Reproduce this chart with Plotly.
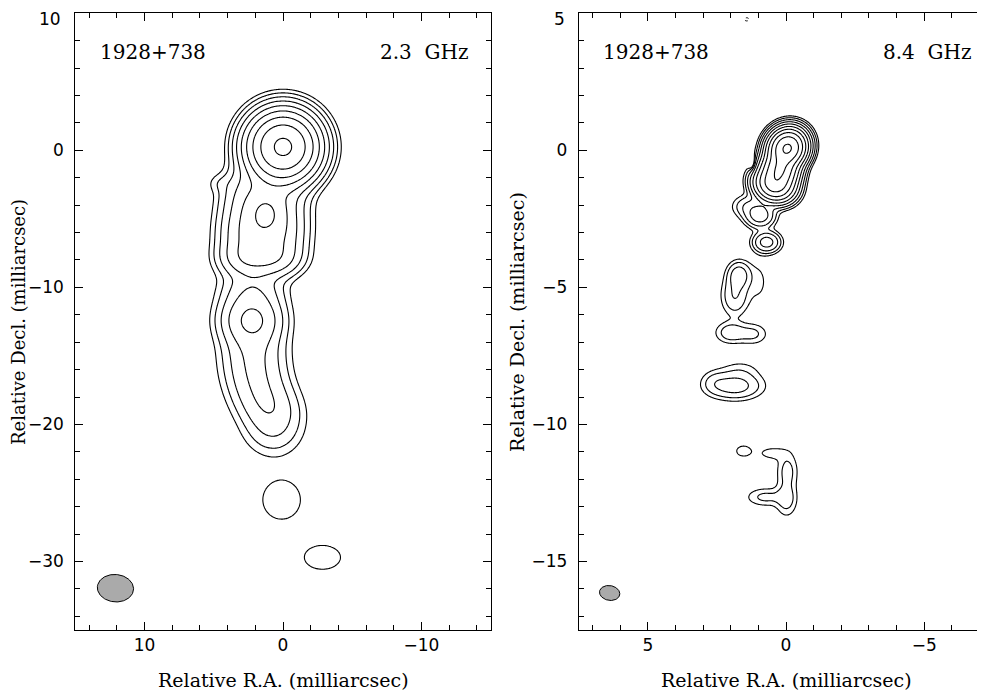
import numpy as np
import plotly.graph_objects as go

# ---------------- data: Gaussian source components (mas) ----------------
# 2.3 GHz (left panel); amplitudes in units of the lowest contour
c23_x   = [0.00,
           0.40, 2.40, 0.40, 2.40, 1.25, 0.45, 2.50, 0.55, 2.55, 0.70, 2.65,
           4.60,
           2.20, 2.25, 2.10, 2.10, 1.90, 1.50, 0.90, 0.70, 0.10, -2.85]
c23_y   = [0.25,
           -2.60, -2.60, -3.80, -3.80, -4.60, -5.20, -5.20, -6.50, -6.50, -7.90, -7.90,
           -2.40,
           -10.2, -12.4, -14.3, -15.5, -16.7, -17.9, -19.0, -20.4, -25.5, -29.7]
c23_amp = [290,
           5.0, 5.0, 7.0, 7.0, 18, 8.5, 8.5, 10.5, 10.5, 11, 11,
           1.0,
           6.0, 18, 4.5, 4.5, 4.5, 4.5, 4.0, 3.5, 1.8, 1.8]
c23_sx  = [1.25,
           1.20, 1.15, 1.20, 1.15, 0.80, 1.20, 1.15, 1.20, 1.15, 1.20, 1.15,
           0.60,
           1.30, 1.25, 1.30, 1.30, 1.30, 1.30, 1.30, 1.30, 1.25, 1.20]
c23_sy  = [1.25,
           1.00, 1.00, 1.00, 1.00, 0.90, 1.00, 1.00, 1.00, 1.00, 0.80, 0.80,
           0.45,
           1.00, 1.10, 1.00, 1.00, 1.00, 1.00, 1.00, 1.20, 1.30, 0.80]
c23_rot = [0] * 23
levels23 = [1, 2, 4, 8, 16, 32, 64, 128, 256]

# 8.4 GHz (right panel)
c84_x   = [-0.05, 0.22, 0.42, 0.94, 0.70, 1.35, 1.70, 1.85, 1.00, 2.00, 1.20,
           1.85, 1.65, 2.60, 1.54, 0.50, -0.05, -0.02, 0.75, 1.20, 1.42]
c84_y   = [0.08, -0.70, -1.25, -2.38, -3.35, -2.05, -4.55, -5.30, -4.80, -6.65, -6.70,
           -8.60, -8.00, -8.45, -10.97, -11.05, -11.70, -12.75, -12.65, -0.55, 4.78]
c84_amp = [560, 240, 170, 12, 11, 4, 6, 4, 1.2, 3.2, 2.3,
           5.5, 1.2, 1.5, 1.35, 1.5, 2.6, 2.6, 2.4, -3.0, -1.6]
c84_sx  = [0.31, 0.32, 0.36, 0.30, 0.28, 0.35, 0.25, 0.30, 0.30, 0.35, 0.35,
           0.60, 0.50, 0.30, 0.31, 0.35, 0.25, 0.25, 0.45, 0.10, 0.08]
c84_sy  = [0.34, 0.33, 0.30, 0.25, 0.22, 0.25, 0.30, 0.45, 0.60, 0.25, 0.25,
           0.30, 0.25, 0.28, 0.23, 0.17, 0.45, 0.40, 0.22, 0.22, 0.06]
c84_rot = [34, 0, 20] + [0] * 18
levels84 = [1, 2, 4, 8, 16, 32, 64, 128, 256, 512]

# restoring beams: centre, FWHM major/minor (mas), position angle (deg)
beam23 = dict(x=12.1, y=-31.95, major=2.62, minor=2.0, pa=85)
beam84 = dict(x=6.38, y=-16.15, major=0.74, minor=0.54, pa=80)

# axis ticks
yticks23 = [-30, -20, -10, 0, 10]
yticks84 = [-15, -10, -5, 0, 5]

# panel labels
source_name = "1928+738"
freq_labels = ["2.3\u00a0\u00a0GHz", "8.4\u00a0\u00a0GHz"]
xlabel = "Relative R.A. (milliarcsec)"
ylabel = "Relative Decl. (milliarcsec)"


def model(X, Y, xs, ys, amps, sxs, sys_, rots):
    F = np.zeros_like(X)
    for x0, y0, a, sx, sy, r in zip(xs, ys, amps, sxs, sys_, rots):
        t = np.radians(r)
        dx, dy = X - x0, Y - y0
        xr = dx * np.cos(t) + dy * np.sin(t)
        yr = -dx * np.sin(t) + dy * np.cos(t)
        F += a * np.exp(-0.5 * ((xr / sx) ** 2 + (yr / sy) ** 2))
    return F


def beam_path(b):
    t = np.linspace(0, 2 * np.pi, 121)
    a, c = b["major"] / 2, b["minor"] / 2
    pa = np.radians(b["pa"])
    ux, uy = np.sin(pa), np.cos(pa)
    vx, vy = np.cos(pa), -np.sin(pa)
    xs = b["x"] + a * np.cos(t) * ux + c * np.sin(t) * vx
    ys = b["y"] + a * np.cos(t) * uy + c * np.sin(t) * vy
    return xs, ys


def lab(v):
    return ("\u2212" + str(-v)) if v < 0 else str(v)


# grids
xg1 = np.arange(-7.0, 9.0, 0.08)
yg1 = np.arange(-34.0, 7.0, 0.08)
X1, Y1 = np.meshgrid(xg1, yg1)
F1 = model(X1, Y1, c23_x, c23_y, c23_amp, c23_sx, c23_sy, c23_rot)
Z1 = np.log2(np.clip(F1, 1e-3, None))

xg2 = np.arange(-2.5, 4.0, 0.03)
yg2 = np.arange(-14.5, 5.3, 0.03)
X2, Y2 = np.meshgrid(xg2, yg2)
F2 = model(X2, Y2, c84_x, c84_y, c84_amp, c84_sx, c84_sy, c84_rot)
Z2 = np.log2(np.clip(F2, 1e-3, None))

black = [[0, "black"], [1, "black"]]
fig = go.Figure()

fig.add_trace(go.Contour(
    x=xg1, y=yg1, z=Z1, xaxis="x", yaxis="y", autocontour=False,
    contours=dict(start=np.log2(levels23[0]), end=np.log2(levels23[-1]), size=1, coloring="lines"),
    line=dict(width=1.1, smoothing=1), colorscale=black, showscale=False, hoverinfo="skip"))

fig.add_trace(go.Contour(
    x=xg2, y=yg2, z=Z2, xaxis="x2", yaxis="y2", autocontour=False,
    contours=dict(start=np.log2(levels84[0]), end=np.log2(levels84[-1]), size=1, coloring="lines"),
    line=dict(width=1.1, smoothing=1), colorscale=black, showscale=False, hoverinfo="skip"))

fig.add_trace(go.Contour(
    x=xg2, y=yg2, z=F2, xaxis="x2", yaxis="y2", autocontour=False,
    contours=dict(start=-levels84[0], end=-levels84[0], size=1, coloring="lines"),
    line=dict(width=1, dash="dot", smoothing=1), colorscale=black, showscale=False, hoverinfo="skip"))

for b, xa, ya in [(beam23, "x", "y"), (beam84, "x2", "y2")]:
    bx, by = beam_path(b)
    fig.add_trace(go.Scatter(x=bx, y=by, xaxis=xa, yaxis=ya, mode="lines", fill="toself",
                             fillcolor="#aaaaaa", line=dict(color="black", width=1),
                             hoverinfo="skip", showlegend=False))

W, H = 985, 696
OFF = 8  # page offset of the figure inside the browser window


def px(v):
    return (v - OFF) / W


def py(v):
    return 1 - (v - OFF) / H


tickfont = dict(family="DejaVu Sans", size=17, color="black")
axis_common = dict(showgrid=False, zeroline=False, showline=True, linecolor="black", linewidth=1,
                   ticks="inside", ticklen=8, tickwidth=1, tickcolor="black", tickfont=tickfont,
                   ticklabeloverflow="allow")

# the top-most y label sits at the window edge: drawn separately just below it
ytext23 = [lab(v) for v in yticks23[:-1]] + [""]
ytext84 = [lab(v) for v in yticks84[:-1]] + [""]

fig.update_layout(
    width=W, height=H, margin=dict(l=0, r=0, t=0, b=0, autoexpand=False),
    paper_bgcolor="white", plot_bgcolor="white", showlegend=False,
    xaxis=dict(domain=[px(75.3), px(490.7)], range=[15, -15], tick0=0, dtick=10, mirror="ticks",
               minor=dict(dtick=2, tick0=0, ticks="inside", ticklen=5, tickcolor="black"),
               anchor="y", **axis_common),
    yaxis=dict(domain=[py(630), py(13.3)], range=[-35, 10], tickvals=yticks23, ticktext=ytext23,
               mirror="ticks",
               minor=dict(dtick=2, tick0=0, ticks="inside", ticklen=5, tickcolor="black"),
               anchor="x", ticklabelstandoff=7, **axis_common),
    xaxis2=dict(domain=[px(578.7), px(985)], range=[7.5, -7.2], tick0=0, dtick=5, mirror="ticks",
                minor=dict(dtick=1, tick0=0, ticks="inside", ticklen=5, tickcolor="black"),
                anchor="y2", **axis_common),
    yaxis2=dict(domain=[py(630), py(13.3)], range=[-17.5, 5], tickvals=yticks84, ticktext=ytext84,
                mirror=False,
                minor=dict(dtick=1, tick0=0, ticks="inside", ticklen=5, tickcolor="black"),
                anchor="x2", ticklabelstandoff=7, **axis_common),
)

fig.add_annotation(xref="paper", yref="paper", x=px(62), y=1, text=lab(yticks23[-1]),
                   xanchor="right", yanchor="top", showarrow=False, font=tickfont, borderpad=0)
fig.add_annotation(xref="paper", yref="paper", x=px(565.5), y=1, text=lab(yticks84[-1]),
                   xanchor="right", yanchor="top", showarrow=False, font=tickfont, borderpad=0)

labfont = dict(family="DejaVu Serif", size=20, color="black")
titlefont = dict(family="DejaVu Serif", size=19, color="black")
ann = [
    dict(x=px(98), y=py(52), text=source_name, xanchor="left"),
    dict(x=px(470), y=py(52), text=freq_labels[0], xanchor="right"),
    dict(x=px(601), y=py(52), text=source_name, xanchor="left"),
    dict(x=px(973), y=py(52), text=freq_labels[1], xanchor="right"),
]
for a in ann:
    fig.add_annotation(xref="paper", yref="paper", yanchor="middle", showarrow=False, font=labfont, **a)

fig.add_annotation(xref="x", yref="paper", x=0, y=py(680), text=xlabel, showarrow=False,
                   font=titlefont, xanchor="center", yanchor="middle")
fig.add_annotation(xref="x2", yref="paper", x=0, y=py(680), text=xlabel, showarrow=False,
                   font=titlefont, xanchor="center", yanchor="middle")
fig.add_annotation(xref="paper", yref="paper", x=px(19), y=py(322), text=ylabel, textangle=-90,
                   showarrow=False, font=dict(family="DejaVu Serif", size=18, color="black"),
                   xanchor="center", yanchor="middle")
fig.add_annotation(xref="paper", yref="paper", x=px(517), y=py(322), text=ylabel, textangle=-90,
                   showarrow=False, font=titlefont, xanchor="center", yanchor="middle")

fig.write_html("out.html")
